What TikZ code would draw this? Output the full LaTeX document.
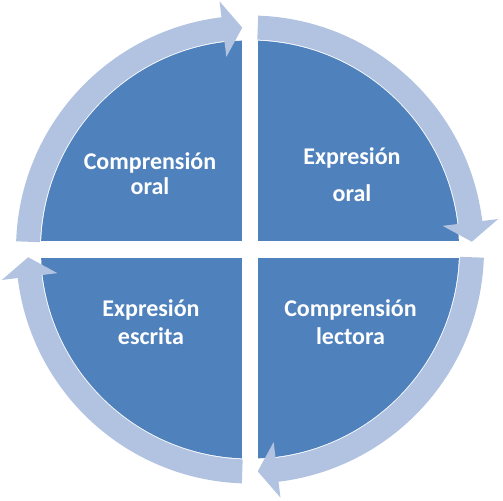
\documentclass[tikz,border=0pt]{standalone}
\usepackage{fontspec}
\setmainfont{Carlito}
\definecolor{quadblue}{HTML}{4F81BD}
\definecolor{ringblue}{HTML}{B1C3E0}
\tikzset{
  quad/.style={fill=quadblue},
  ringarrow/.style={fill=ringblue},
  lbl/.style={text=white, font=\bfseries\fontsize{18}{20}\selectfont, anchor=base, inner sep=0pt}
}
\newcommand{\ringarrowpath}[1]{%
  % #1 = rotation offset
  \fill[ringarrow, rotate=#1] (178:234) arc[start angle=178, end angle=97, radius=234]
    -- (97:250) -- (92:222) -- (97:194) -- (97:210)
    arc[start angle=97, end angle=178, radius=210] -- cycle;}
\begin{document}
\begin{tikzpicture}[x=0.75pt,y=0.75pt]
\useasboundingbox (0,0) rectangle (503,500);
\begin{scope}[shift={(250,250.5)}]
  \begin{scope}
    \clip (0,0) circle (209);
    \fill[quad] (-260,8) rectangle (-8,260);
    \fill[quad] (8,8) rectangle (260,260);
    \fill[quad] (8,-8.5) rectangle (260,-260);
    \fill[quad] (-260,-8.5) rectangle (-8,-260);
  \end{scope}
  \ringarrowpath{0}
  \ringarrowpath{-90}
  \ringarrowpath{-180}
  \ringarrowpath{-270}
\end{scope}
\node[lbl] (t1a) at (150,330) {Comprensión};
\node[lbl] (t1b) at (150,305) {oral};
\node[lbl] (t2a) at (352,335) {Expresión};
\node[lbl] (t2b) at (352,298) {oral};
\node[lbl] (t3a) at (151,183.3) {Expresión};
\node[lbl] (t3b) at (151,156) {escrita};
\node[lbl] (t4a) at (350.5,183) {Comprensión};
\node[lbl] (t4b) at (350.5,156) {lectora};
\end{tikzpicture}
\end{document}
